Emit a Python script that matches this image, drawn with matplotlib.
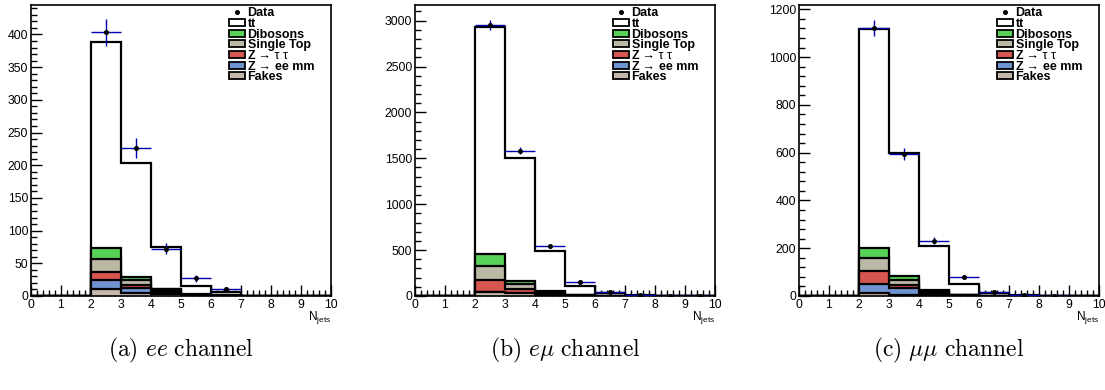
import numpy as np
import matplotlib
matplotlib.use('Agg')
import matplotlib.pyplot as plt
from matplotlib.patches import Rectangle
from matplotlib.ticker import MultipleLocator

plt.rcParams['font.family'] = ['Liberation Sans', 'DejaVu Sans']
plt.rcParams['font.size'] = 8

# ── Data ──────────────────────────────────────────────────────────────────────
edges = np.arange(0, 11)          # N_jets bins 0..10
centers = edges[:-1] + 0.5

# ee channel
ee_fakes = [0, 0, 11, 5, 3, 0.5, 0.3, 0, 0, 0]
ee_zll = [0, 0, 13.5, 7, 2, 0.5, 0.2, 0, 0, 0]
ee_ztt = [0, 0, 11.5, 5, 2, 0.5, 0.2, 0, 0, 0]
ee_stop = [0, 0, 21, 8, 3, 0.5, 0.2, 0, 0, 0]
ee_dib = [0, 0, 16, 4.5, 1, 0.3, 0.1, 0, 0, 0]
ee_tt = [0, 0, 315, 173.5, 64, 13, 4.6, 0, 0, 0]
ee_data = [0, 0, 403, 226, 72, 27, 11, 0, 0, 0]

# emu channel
em_fakes = [0, 0, 45, 28, 14, 4, 1.5, 0.5, 0.2, 0]
em_zll = [0, 0, 2, 1, 1, 0.3, 0.1, 0, 0, 0]
em_ztt = [0, 0, 127, 47, 14, 3, 1, 0.3, 0.1, 0]
em_stop = [0, 0, 153, 51, 14, 3, 1, 0.3, 0.1, 0]
em_dib = [0, 0, 131, 40, 8, 2, 0.5, 0.2, 0.1, 0]
em_tt = [0, 0, 2470, 1333, 443, 101, 32, 9, 2.5, 0.8]
em_data = [0, 0, 2955, 1585, 548, 157, 42, 12, 4, 1]

# mumu channel
mm_fakes = [0, 0, 14, 6, 3, 1, 0.3, 0.1, 0, 0]
mm_zll = [0, 0, 36, 28, 9, 2, 0.5, 0.1, 0, 0]
mm_ztt = [0, 0, 53, 14, 4, 1, 0.3, 0.1, 0, 0]
mm_stop = [0, 0, 57, 18, 5, 1.2, 0.3, 0.1, 0, 0]
mm_dib = [0, 0, 42, 16, 3, 0.8, 0.2, 0.1, 0, 0]
mm_tt = [0, 0, 917, 515, 187, 44, 10, 2.5, 0.8, 0.2]
mm_data = [0, 0, 1120, 595, 232, 80, 18, 4, 1, 0]

y_max = [445, 3170, 1218]
y_major = [50, 500, 200]
captions = [r'$\mathrm{(a)}\ ee\ \mathrm{channel}$',
            r'$\mathrm{(b)}\ e\mu\ \mathrm{channel}$',
            r'$\mathrm{(c)}\ \mu\mu\ \mathrm{channel}$']

# legend labels, top to bottom; each is a list of (text, bold?) pieces
leg_labels = [
    [('Data', True)],
    [('tt', True)],
    [('Dibosons', True)],
    [('Single Top', True)],
    [('Z', True), (' \u2192 \u03c4 \u03c4', False)],
    [('Z', True), (' \u2192 ', False), ('ee mm', True)],
    [('Fakes', True)],
]

# colours (ROOT-ish)
C_TT = 'white'
C_DIB = '#57d257'
C_STOP = '#bbb8a5'
C_ZTT = '#d75650'
C_ZLL = '#7094d2'
C_FAKES = '#c4b8aa'
C_ERR = '#0000b0'


def draw_panel(ax, comps, data, ymax, ymaj):
    # comps are bottom → top: fakes, Z->ll, Z->tautau, single top, dibosons, tt
    colors = [C_FAKES, C_ZLL, C_ZTT, C_STOP, C_DIB, C_TT]
    cum = np.cumsum(np.array(comps, dtype=float), axis=0)
    # ROOT THStack: draw the biggest sum first, each from zero, black outline
    for i in range(len(comps) - 1, -1, -1):
        ax.stairs(cum[i], edges, baseline=0, fill=True,
                  facecolor=colors[i], edgecolor='none', zorder=2)
        ax.stairs(cum[i], edges, baseline=0, fill=False,
                  color='black', linewidth=1.6, zorder=2)

    d = np.array(data, dtype=float)
    m = d > 0
    ax.errorbar(centers[m], d[m], xerr=0.5, yerr=np.sqrt(d[m]),
                fmt='none', ecolor=C_ERR, elinewidth=1.0, capsize=0, zorder=4)
    ax.plot(centers[m], d[m], 'o', color='black', markersize=2.6, zorder=5)

    ax.set_xlim(0, 10)
    ax.set_ylim(0, ymax)
    ax.xaxis.set_major_locator(MultipleLocator(1))
    ax.xaxis.set_minor_locator(MultipleLocator(0.2))
    ax.yaxis.set_major_locator(MultipleLocator(ymaj))
    ax.yaxis.set_minor_locator(MultipleLocator(ymaj / 5))
    ax.tick_params(which='both', direction='in', top=False, right=False,
                   width=1.0, labelsize=8.8, pad=2)
    ax.tick_params(which='major', length=8)
    ax.tick_params(which='minor', length=4)
    for s in ax.spines.values():
        s.set_linewidth(1.2)

    ax.text(1.0, -0.045, r'N$_{\mathregular{jets}}$', transform=ax.transAxes,
            ha='right', va='top', fontsize=8.5)

    # ── legend drawn by hand so rows sit tight like ROOT's TLegend ──
    leg_colors = [None, C_TT, C_DIB, C_STOP, C_ZTT, C_ZLL, C_FAKES]
    row_h = 10.7 / 291
    y0 = 1 - 6.7 / 291
    for k, (pieces, col) in enumerate(zip(leg_labels, leg_colors)):
        yc = y0 - k * row_h
        if col is None:
            ax.plot([0.687], [yc], 'o', color='black', markersize=2.6,
                    transform=ax.transAxes, clip_on=False, zorder=6)
        else:
            ax.add_patch(Rectangle((0.66, yc - 0.012), 0.053, 0.024,
                                   transform=ax.transAxes, facecolor=col,
                                   edgecolor='black', linewidth=1.3, zorder=6))
        prev = None
        for txt, bold in pieces:
            w = 'bold' if bold else 'normal'
            if prev is None:
                prev = ax.text(0.722, yc, txt, transform=ax.transAxes,
                               ha='left', va='center_baseline', fontsize=9,
                               fontweight=w, zorder=7)
            else:
                # chain the next piece right after the previous one
                prev = ax.annotate(txt, xy=(1, 0), xycoords=prev,
                                   ha='left', va='bottom', fontsize=9,
                                   fontweight=w, zorder=7)


fig = plt.figure(figsize=(11.05, 3.9), dpi=100)
lefts = [31, 415, 799]
panels = [
    ([ee_fakes, ee_zll, ee_ztt, ee_stop, ee_dib, ee_tt], ee_data),
    ([em_fakes, em_zll, em_ztt, em_stop, em_dib, em_tt], em_data),
    ([mm_fakes, mm_zll, mm_ztt, mm_stop, mm_dib, mm_tt], mm_data),
]
for j, (comps, data) in enumerate(panels):
    ax = fig.add_axes([lefts[j] / 1105, 94 / 390, 300 / 1105, 291 / 390])
    draw_panel(ax, comps, data, y_max[j], y_major[j])
    fig.text((lefts[j] + 150) / 1105, 1 - 350 / 390, captions[j],
             ha='center', va='center', fontsize=17, math_fontfamily='cm')

plt.savefig('out.png', dpi=100)
plt.close()
